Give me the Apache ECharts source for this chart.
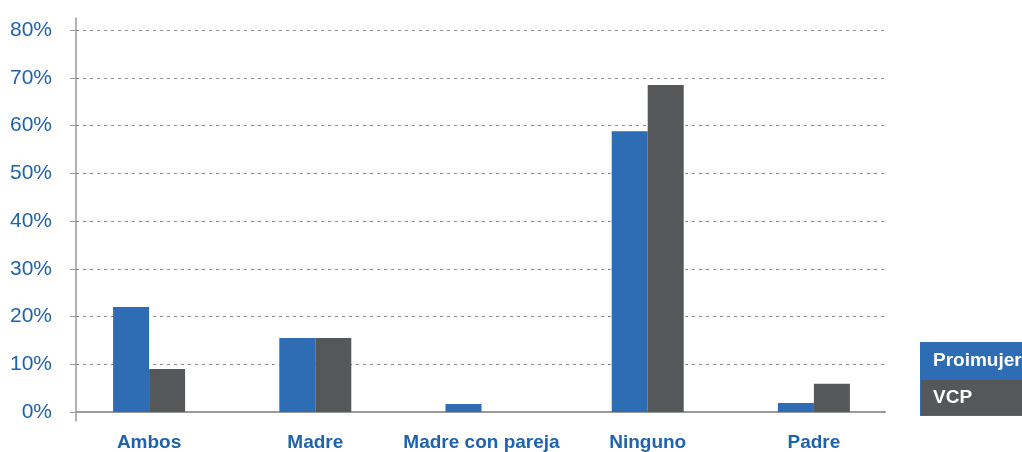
<!DOCTYPE html>
<html>
<head>
<meta charset="utf-8">
<script src="https://cdn.jsdelivr.net/npm/echarts@6/dist/echarts.min.js"></script>
<style>html,body{margin:0;padding:0;background:#fff}#c{width:1022px;height:452px}</style>
</head>
<body>
<div id="c"></div>
<script>
const categories = ['Ambos', 'Madre', 'Madre con pareja', 'Ninguno', 'Padre'];
const proimujer = [0.22, 0.155, 0.017, 0.588, 0.019];
const vcp = [0.09, 0.155, 0, 0.685, 0.059];
const seriesNames = ['Proimujer', 'VCP'];

const BLUE = '#2e6db4';
const GRAY = '#555759';
const LABEL = '#1f63ad';
const AXIS = '#9a9a9a';

const chart = echarts.init(document.getElementById('c'));
chart.setOption({
  animation: false,
  grid: [
    { left: 76, right: 137, top: 30, bottom: 40, containLabel: false },
    { left: 66, right: 125, top: 30, bottom: 40, containLabel: false },
    { left: 76, width: 1, top: 18, bottom: 31, containLabel: false }
  ],
  xAxis: [
    { gridIndex: 0, type: 'category', data: categories,
      axisLine: { show: true, lineStyle: { color: AXIS, width: 2 } },
      axisTick: { show: false }, axisLabel: { show: false }, splitLine: { show: false } },
    { gridIndex: 1, type: 'category', data: categories,
      axisLine: { show: false }, axisTick: { show: false },
      axisLabel: { interval: 0, color: LABEL, fontWeight: 'bold', fontSize: 19, margin: 21, fontFamily: 'Liberation Sans, Arial, sans-serif' } },
    { gridIndex: 2, type: 'value', show: false }
  ],
  yAxis: [
    { gridIndex: 0, type: 'value', min: 0, max: 0.8, interval: 0.1,
      axisLine: { show: false },
      axisTick: { show: true, inside: false, length: 6, lineStyle: { color: AXIS, width: 1 } },
      axisLabel: { color: LABEL, fontSize: 21, margin: 24, fontFamily: 'Liberation Sans, Arial, sans-serif',
        formatter: v => Math.round(v * 100) + '%' },
      splitLine: { show: true, lineStyle: { color: '#8c8c8c', type: [3, 4], width: 1 } } },
    { gridIndex: 1, type: 'value', min: 0, max: 0.8, interval: 0.1, show: false },
    { gridIndex: 2, type: 'value', min: 0, max: 1,
      axisLine: { show: true, lineStyle: { color: AXIS, width: 1.5 } },
      axisTick: { show: false }, axisLabel: { show: false }, splitLine: { show: false } }
  ],
  legend: {
    orient: 'vertical', left: 916, top: 342, itemGap: 0, itemWidth: 0, itemHeight: 0,
    icon: 'rect', padding: 0, selectedMode: false,
    data: [
      { name: seriesNames[0], textStyle: { backgroundColor: BLUE } },
      { name: seriesNames[1], textStyle: { backgroundColor: GRAY } }
    ],
    textStyle: { color: '#fff', fontWeight: 'bold', fontSize: 19, fontFamily: 'Liberation Sans, Arial, sans-serif',
      width: 110, height: 35, lineHeight: 35, padding: [0, 0, 0, 12],
      borderColor: BLUE, borderWidth: 1 }
  },
  series: [
    { name: seriesNames[0], type: 'bar', xAxisIndex: 1, yAxisIndex: 1, data: proimujer,
      barWidth: 36, barGap: '0%', itemStyle: { color: BLUE } },
    { name: seriesNames[1], type: 'bar', xAxisIndex: 1, yAxisIndex: 1, data: vcp,
      barWidth: 36, barGap: '0%', itemStyle: { color: GRAY } }
  ]
});
</script>
</body>
</html>
